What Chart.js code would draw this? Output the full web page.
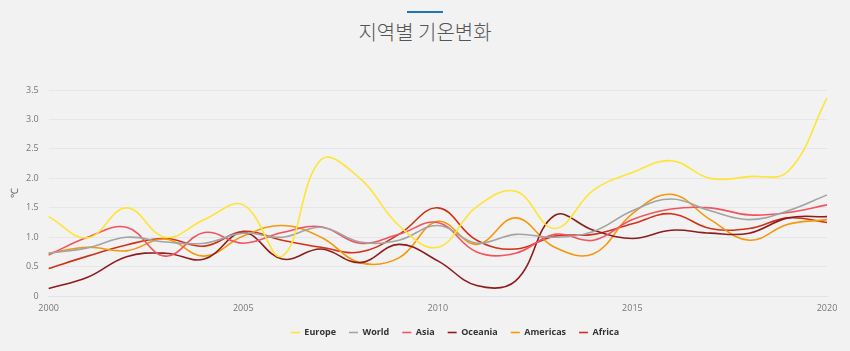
<!DOCTYPE html>
<html>
<head>
<meta charset="utf-8">
<script src="https://cdn.jsdelivr.net/npm/chart.js@4.4.1/dist/chart.umd.min.js"></script>
<style>
  html, body { margin: 0; padding: 0; background: #f2f2f2; }
  body { width: 850px; height: 351px; position: relative; overflow: hidden; }
  .bar { position: absolute; top: 11px; left: 407px; width: 36px; height: 2px; background: #1f75b8; }
  .title { position: absolute; top: 17px; left: 0; width: 850px; text-align: center;
    font-family: "Noto Sans CJK KR", "Noto Sans", sans-serif; font-size: 20px; color: #555; font-weight: 300; }
  .wrap { position: absolute; top: 70px; left: 0; width: 850px; height: 281px; }
</style>
</head>
<body>
<div class="bar"></div>
<div class="title">지역별 기온변화</div>
<div class="wrap"><canvas id="lineChart"></canvas></div>
<script>
const years = [2000, 2001, 2002, 2003, 2004, 2005, 2006, 2007, 2008, 2009, 2010,
  2011, 2012, 2013, 2014, 2015, 2016, 2017, 2018, 2019, 2020];

const europe   = [1.35, 0.99, 1.50, 1.00, 1.30, 1.55, 0.68, 2.32, 2.00, 1.20, 0.83, 1.52, 1.78, 1.15, 1.80, 2.10, 2.30, 2.00, 2.03, 2.12, 3.36];
const world    = [0.73, 0.82, 1.00, 0.92, 0.90, 1.07, 1.00, 1.17, 0.92, 0.95, 1.20, 0.90, 1.05, 1.00, 1.10, 1.45, 1.65, 1.45, 1.30, 1.45, 1.72];
const asia     = [0.70, 1.00, 1.17, 0.68, 1.08, 0.90, 1.08, 1.18, 0.90, 1.05, 1.25, 0.75, 0.73, 1.05, 0.95, 1.30, 1.48, 1.50, 1.38, 1.42, 1.55];
const oceania  = [0.13, 0.32, 0.67, 0.73, 0.63, 1.08, 0.63, 0.80, 0.57, 0.88, 0.60, 0.18, 0.26, 1.37, 1.12, 0.98, 1.12, 1.07, 1.07, 1.33, 1.35];
const americas = [0.73, 0.83, 0.77, 0.97, 0.68, 1.02, 1.20, 1.00, 0.57, 0.65, 1.27, 0.88, 1.33, 0.83, 0.72, 1.40, 1.73, 1.30, 0.95, 1.22, 1.30];
const africa   = [0.47, 0.68, 0.87, 0.98, 0.85, 1.10, 0.95, 0.83, 0.75, 1.05, 1.50, 0.95, 0.80, 1.02, 1.05, 1.23, 1.40, 1.15, 1.15, 1.33, 1.25];

const yTicks = [0, 0.5, 1, 1.5, 2, 2.5, 3, 3.5];

function series(label, data, color) {
  return {
    label: label,
    data: data,
    borderColor: color,
    backgroundColor: color,
    borderWidth: 1.6,
    pointRadius: 0,
    tension: 0.4,
    fill: false
  };
}

// legend sits a bit right of the canvas centre (and a bit higher) in the original
const legendShift = {
  id: 'legendShift',
  afterLayout(chart) {
    const lg = chart.legend;
    if (lg) {
      lg.left += 37;
      lg.right += 37;
      lg.top -= 6;
      lg.bottom -= 6;
    }
  }
};

document.addEventListener('DOMContentLoaded', () => {
  const el = document.getElementById('lineChart');
  new Chart(el, {
    type: 'line',
    data: {
      labels: years,
      datasets: [
        series('Europe', europe, '#ffe433'),
        series('World', world, '#a3a3a3'),
        series('Asia', asia, '#f2545e'),
        series('Oceania', oceania, '#8e1c1c'),
        series('Americas', americas, '#f5980c'),
        series('Africa', africa, '#cf3216')
      ]
    },
    plugins: [legendShift],
    options: {
      responsive: true,
      maintainAspectRatio: false,
      animation: false,
      layout: { padding: { top: 20, right: 23, left: 9, bottom: -2 } },
      scales: {
        x: {
          grid: { display: false, drawTicks: false },
          border: { color: '#dde2ec' },
          ticks: {
            autoSkip: false,
            maxRotation: 0,
            padding: 7,
            color: '#777',
            font: { family: 'Open Sans', size: 9 },
            callback: function (v, i) {
              const y = years[i];
              return y % 5 === 0 ? String(y) : '';
            }
          }
        },
        y: {
          min: 0,
          max: 3.5,
          afterBuildTicks: (axis) => { axis.ticks = yTicks.map(v => ({ value: v })); },
          grid: { color: '#e4e6ea', drawTicks: false },
          border: { display: false },
          ticks: {
            padding: 10,
            color: '#777',
            font: { family: 'Open Sans', size: 9 }
          },
          title: {
            display: true,
            text: '℃',
            color: '#666',
            font: { family: 'Open Sans', size: 10 },
            padding: { top: 0, bottom: -5 }
          }
        }
      },
      plugins: {
        legend: {
          position: 'bottom',
          labels: {
            usePointStyle: true,
            pointStyle: 'line',
            pointStyleWidth: 9,
            boxHeight: 9,
            padding: 13,
            color: '#333',
            font: { family: 'Open Sans', size: 9, weight: 'bold' }
          }
        },
        tooltip: { enabled: false }
      }
    }
  });
});
</script>
</body>
</html>
